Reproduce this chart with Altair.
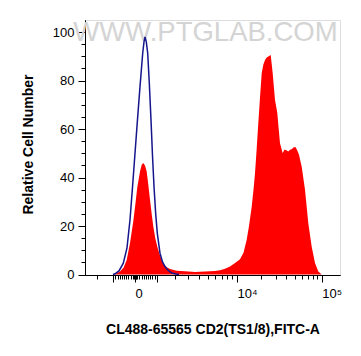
import altair as alt
import pandas as pd

# x values are display channels of a biexponential FITC-A axis (0 .. 1020)
BLUE_X = [112, 120, 136, 153.2, 168, 180, 190, 200, 210, 220, 230.8, 236, 240,
          245.2, 250.8, 257.2, 264, 270, 276, 282.8, 289.2, 300, 310, 320, 332,
          346.8, 364, 376]
BLUE_Y = [0, 0.3, 1.5, 4.7, 11, 22.6, 36, 50, 64, 77.5, 91.3, 96, 98,
          96, 91.3, 79, 63.8, 49, 36.3, 25, 17, 8.8, 5.2, 3.3, 1.8,
          0.6, 0.2, 0]

RED_X = [116, 126.8, 140, 154, 166.8, 180, 193.2, 202, 209.2, 220, 226.8, 233.2,
         240, 246.8, 253.2, 260, 266.8, 273.2, 281.2, 289.2, 298, 306.8, 316,
         326.8, 340, 366.8, 400, 440, 480, 520, 540, 560, 580, 600, 620, 634,
         646.8, 656, 666.8, 674, 680, 686.8, 693.2, 700, 706.8, 713.2, 720,
         726.8, 733.2, 742.8, 750.8, 760, 769.2, 774.8, 780, 790.8, 797.2, 804,
         813.2, 820, 826.8, 834.8, 842.8, 850, 856, 866.8, 880, 893.2, 906.8,
         920, 933.2, 946.8]
RED_Y = [0, 0.5, 1.2, 2.8, 6, 13, 22, 29.5, 36, 42.5, 45.3, 46,
         45, 42.5, 37, 30.8, 25, 19.8, 15, 11.5, 8.5, 6, 4.2,
         3, 2.3, 1.6, 1.3, 1.0, 1.2, 1.4, 1.8, 2.4, 3.3, 4.8, 6.3, 9,
         14.3, 20, 28, 35, 41.8, 52, 62.4, 73, 83, 86.5, 88.5,
         89.5, 89.9, 90.6, 83, 72, 66.6, 60, 54.2, 50, 51.5, 51.4,
         50.7, 51.5, 51.7, 52.5, 52.5, 51, 49.4, 44.5, 35, 21.2, 11.5,
         4.7, 1.2, 0]

# axis ticks (display channels): -1e3, 0, 1e3, 1e4, 1e5 and minor ticks
X_MAJOR = [113.2, 200, 286.8, 608, 946.8]
X_MINOR = [46.8,
           121.9, 130.6, 139.2, 147.9, 156.6, 165.3, 173.9, 182.6, 191.3,
           196, 198, 202, 204,
           208.7, 217.4, 226.1, 234.7, 243.4, 252.1, 260.8, 269.4, 278.1,
           360, 413.2, 457.2, 493.2, 520, 546.8, 566.8, 586.8,
           705, 762, 805, 838, 866, 890, 910, 929]
X_LABEL_POS = [200, 608, 946.8]
X_LABEL_TXT = ["0", "10⁴", "10⁵"]
Y_MAJOR = [0, 20, 40, 60, 80, 100]
Y_MINOR = [5, 10, 15, 25, 30, 35, 45, 50, 55, 65, 70, 75, 85, 90, 95]

WATERMARK = "WWW.PTGLAB.COM"
WM_X = 482
WM_Y = 99.5

blue = pd.DataFrame({"x": BLUE_X, "y": BLUE_Y})
red = pd.DataFrame({"x": RED_X, "y": RED_Y})
wm = pd.DataFrame({"x": [WM_X], "y": [WM_Y], "t": [WATERMARK]})

label_expr = " : ".join(
    f"datum.value == {p} ? '{t}'" for p, t in zip(X_LABEL_POS, X_LABEL_TXT)
) + " : ''"

FONT = "Liberation Sans"

xscale = alt.Scale(domain=[0, 1020], nice=False, zero=False)
yscale = alt.Scale(domain=[-0.2, 105], nice=False, zero=False)

common = dict(tickColor="black", domainColor="black", grid=False,
              labelFont=FONT, labelFontSize=13, labelColor="black",
              labelOverlap=False, labelFlush=False)

x_minor_axis = alt.Axis(values=X_MINOR, labels=False, tickSize=4, title=None,
                        orient="bottom", **common)
y_minor_axis = alt.Axis(values=Y_MINOR, labels=False, tickSize=4, title=None,
                        orient="left", **common)

x_major_axis = alt.Axis(
    values=X_MAJOR,
    labelExpr=label_expr,
    labelPadding=5,
    labelAlign="left",
    tickSize=7,
    orient="bottom",
    title="CL488-65565 CD2(TS1/8),FITC-A",
    titleFont=FONT,
    titleFontSize=14,
    titleFontWeight="bold",
    titleColor="black",
    titleBaseline="alphabetic",
    titleY=58,
    **common,
)

y_major_axis = alt.Axis(
    values=Y_MAJOR,
    labelPadding=4,
    tickSize=7,
    orient="left",
    title="Relative Cell Number",
    titleFont=FONT,
    titleFontSize=14,
    titleFontWeight="bold",
    titleColor="black",
    titleBaseline="alphabetic",
    titleX=-53,
    titleY=124,
    titleAlign="center",
    **common,
)

area = alt.Chart(red).mark_area(color="#ff0000", opacity=1, interpolate="linear").encode(
    x=alt.X("x:Q", scale=xscale, axis=x_minor_axis),
    y=alt.Y("y:Q", scale=yscale, axis=y_minor_axis),
)

line = alt.Chart(blue).mark_line(color="#16168c", strokeWidth=1.5).encode(
    x=alt.X("x:Q", scale=xscale, axis=x_major_axis),
    y=alt.Y("y:Q", scale=yscale, axis=y_major_axis),
)

mark_wm = alt.Chart(wm).mark_text(
    font=FONT, fontSize=27.5, color="#d4d4d4", baseline="middle", align="center"
).encode(
    x=alt.X("x:Q", scale=xscale, axis=None),
    y=alt.Y("y:Q", scale=yscale, axis=None),
    text="t:N",
)

chart = alt.layer(mark_wm, area, line).resolve_axis(
    x="independent", y="independent"
).properties(
    width=255,
    height=255,
    autosize=alt.AutoSizeParams(type="none"),
    padding={"left": 85, "top": 20, "right": 21, "bottom": 81},
).configure_view(stroke="black", strokeWidth=1).configure(background="white")

chart.save("out.html", embed_options={"renderer": "svg", "actions": False})
